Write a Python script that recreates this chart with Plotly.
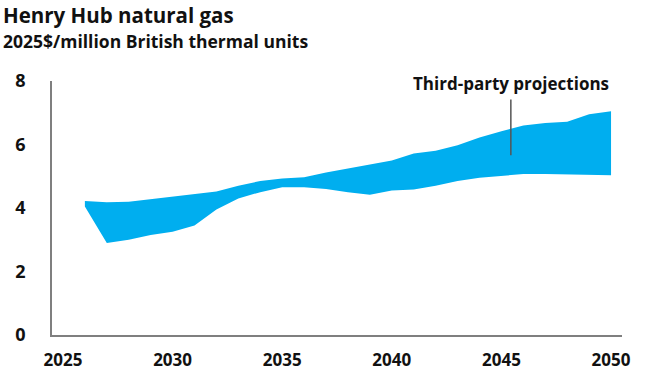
import plotly.graph_objects as go

# Data (2025$/MMBtu)
years = [2026, 2027, 2028, 2029, 2030, 2031, 2032, 2033, 2034, 2035, 2036, 2037,
         2038, 2039, 2040, 2041, 2042, 2043, 2044, 2045, 2046, 2047, 2048, 2049, 2050]
upper = [4.22, 4.18, 4.20, 4.28, 4.35, 4.45, 4.52, 4.70, 4.85, 4.93, 4.97, 5.12,
         5.25, 5.38, 5.50, 5.72, 5.80, 5.98, 6.22, 6.42, 6.60, 6.68, 6.72, 6.95, 7.05]
lower = [4.05, 2.90, 3.00, 3.15, 3.25, 3.45, 3.95, 4.30, 4.50, 4.65, 4.65, 4.60,
         4.50, 4.42, 4.55, 4.58, 4.70, 4.85, 4.95, 5.02, 5.07, 5.07, 5.05, 5.05, 5.03]

x_ticks = [2025, 2030, 2035, 2040, 2045, 2050]
y_ticks = [0, 2, 4, 6, 8]

title = "Henry Hub natural gas"
subtitle = "2025$/million British thermal units"
label = "Third-party projections"
label_x = 2045.43
label_line = (5.66, 7.42)
label_y = 7.92

BAND = "#00AEEF"
FONT = "Open Sans"

fig = go.Figure()
fig.add_trace(go.Scatter(x=years, y=lower, mode="lines", line=dict(width=0, color=BAND),
                         showlegend=False, hoverinfo="skip"))
fig.add_trace(go.Scatter(x=years, y=upper, mode="lines", line=dict(width=0, color=BAND),
                         fill="tonexty", fillcolor=BAND, showlegend=False, hoverinfo="skip"))

fig.add_shape(type="line", xref="x", yref="y", x0=label_x, x1=label_x,
              y0=label_line[0], y1=label_line[1], line=dict(color="#555555", width=1.5))
fig.add_annotation(x=label_x, y=label_y, xref="x", yref="y", text=label, showarrow=False,
                   xanchor="center", yanchor="middle",
                   font=dict(family=FONT, size=17, color="#111111", weight="bold"))

fig.add_annotation(x=-50/570, y=(335-15)/254, xref="paper", yref="paper", text=title,
                   showarrow=False, xanchor="left", yanchor="middle", borderpad=0,
                   font=dict(family=FONT, size=20.5, color="#111111", weight="bold"))
fig.add_annotation(x=-50/570, y=(335-41)/254, xref="paper", yref="paper", text=subtitle,
                   showarrow=False, xanchor="left", yanchor="middle", borderpad=0,
                   font=dict(family=FONT, size=17.5, color="#111111", weight="bold"))

fig.update_layout(
    width=652, height=371,
    margin=dict(l=52, r=30, t=81, b=36, autoexpand=False),
    paper_bgcolor="white", plot_bgcolor="white",
    xaxis=dict(range=[2024.5, 2050.5], tickvals=x_ticks, ticktext=[str(t) for t in x_ticks],
               showgrid=False, zeroline=False, showline=True, linecolor="#7f7f7f", linewidth=1.5,
               ticks="outside", ticklen=9, tickcolor="rgba(0,0,0,0)", automargin=False,
               tickfont=dict(family=FONT, size=17, color="#111111", weight="bold")),
    yaxis=dict(range=[0, 8], tickvals=y_ticks, showgrid=False, zeroline=False,
               showline=True, linecolor="#7f7f7f", linewidth=1.5, automargin=False,
               ticks="outside", ticklen=21, tickcolor="rgba(0,0,0,0)",
               tickfont=dict(family=FONT, size=18, color="#111111", weight="bold")),
)

fig.write_html("out.html")
